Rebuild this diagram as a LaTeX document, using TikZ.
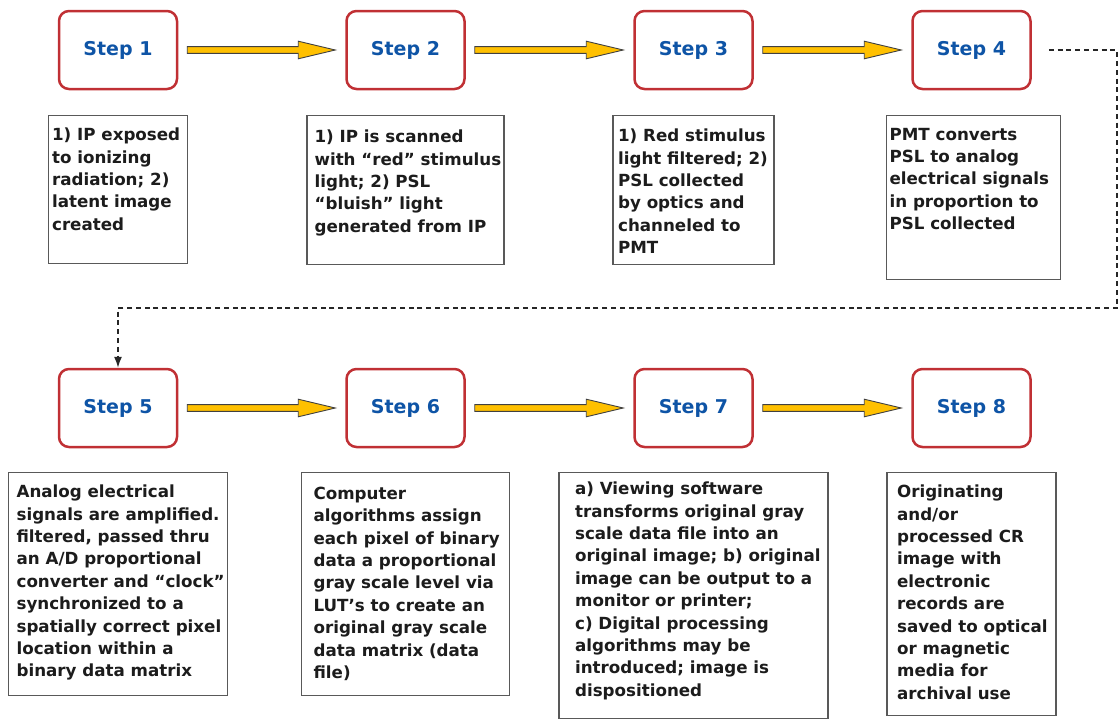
\documentclass[tikz,border=0pt]{standalone}
\usepackage{fontspec}
\setmainfont{DejaVu Sans}
\usetikzlibrary{arrows.meta,positioning}

\definecolor{stepred}{RGB}{192,48,52}
\definecolor{stepblue}{RGB}{14,84,166}
\definecolor{arrowgold}{RGB}{255,192,0}
\definecolor{textgray}{RGB}{28,28,28}

% fat yellow arrow between two step boxes
\newcommand{\fatarrow}[2]{%
  \draw[fatarrow] ([xshift=9pt,yshift=3.4pt]#1.east)
    -- ([xshift=-47pt,yshift=3.4pt]#2.west)
    -- ([xshift=-47pt,yshift=8.8pt]#2.west)
    -- ([xshift=-10pt]#2.west)
    -- ([xshift=-47pt,yshift=-8.8pt]#2.west)
    -- ([xshift=-47pt,yshift=-3.4pt]#2.west)
    -- ([xshift=9pt,yshift=-3.4pt]#1.east) -- cycle;}

\begin{document}
\begin{tikzpicture}[
    x = 1pt, y = -1pt, % pixel grid, y going down
    stepnode/.style = {draw = stepred, line width = 2.5pt, rounded corners = 10pt,
      minimum width = 118pt, minimum height = 78pt, text = stepblue,
      font = \bfseries\fontsize{19}{23}\selectfont},
    infobox/.style = {draw = black!65, line width = 1.2pt, fill = white},
    infotext/.style = {anchor = north west, inner sep = 0pt, align = left,
      text = textgray, font = \bfseries\fontsize{16.7}{22.4}\selectfont},
    fatarrow/.style = {fill = arrowgold, draw = black!75, line width = 0.9pt,
      line join = miter},
    flowline/.style = {draw = black!85, line width = 1.3pt,
      dash pattern = on 5pt off 3.8pt, -{Latex[length=11pt,width=8pt]}}
    ]
    \useasboundingbox (0,0) rectangle (1119,720);

    % step boxes
    \node[stepnode] (s1) at (118,50) {Step 1};
    \node[stepnode, right=167pt of s1] (s2) {Step 2};
    \node[stepnode, right=167.5pt of s2] (s3) {Step 3};
    \node[stepnode, right=157.5pt of s3] (s4) {Step 4};
    \node[stepnode] (s5) at (118,408) {Step 5};
    \node[stepnode, right=167pt of s5] (s6) {Step 6};
    \node[stepnode, right=167.5pt of s6] (s7) {Step 7};
    \node[stepnode, right=157.5pt of s7] (s8) {Step 8};

    % description boxes
    \node[infobox, minimum width=139pt, minimum height=148pt, below=25pt of s1] (b1) {};
    \node[infobox, minimum width=197pt, minimum height=149pt, below=25pt of s2] (b2) {};
    \node[infobox, minimum width=161pt, minimum height=149pt, below=25pt of s3] (b3) {};
    \node[infobox, minimum width=174pt, minimum height=164pt, below=25pt of s4, xshift=2pt] (b4) {};
    \node[infobox, minimum width=219pt, minimum height=223pt, below=24pt of s5] (b5) {};
    \node[infobox, minimum width=208pt, minimum height=223pt, below=24pt of s6] (b6) {};
    \node[infobox, minimum width=269pt, minimum height=246pt, below=24pt of s7] (b7) {};
    \node[infobox, minimum width=169pt, minimum height=243pt, below=24pt of s8] (b8) {};

    \node[infotext] (t1) at ([xshift=4pt,yshift=-12.5pt]b1.north west)
      {1) IP exposed\\to ionizing\\radiation; 2)\\latent image\\created};
    \node[infotext] (t2) at ([xshift=8pt,yshift=-14.5pt]b2.north west)
      {1) IP is scanned\\with “red” stimulus\\light; 2) PSL\\“bluish” light\\generated from IP};
    \node[infotext] (t3) at ([xshift=5.5pt,yshift=-13.5pt]b3.north west)
      {1) Red stimulus\\light filtered; 2)\\PSL collected\\by optics and\\channeled to\\PMT};
    \node[infotext] (t4) at ([xshift=3.5pt,yshift=-12.5pt]b4.north west)
      {PMT converts\\PSL to analog\\electrical signals\\in proportion to\\PSL collected};
    \node[infotext] (t5) at ([xshift=8.5pt,yshift=-12.5pt]b5.north west)
      {Analog electrical\\signals are amplified.\\filtered, passed thru\\an A/D proportional\\converter and “clock”\\synchronized to a\\spatially correct pixel\\location within a\\binary data matrix};
    \node[infotext] (t6) at ([xshift=12.5pt,yshift=-14.5pt]b6.north west)
      {Computer\\algorithms assign\\each pixel of binary\\data a proportional\\gray scale level via\\LUT’s to create an\\original gray scale\\data matrix (data\\file)};
    \node[infotext] (t7) at ([xshift=16.5pt,yshift=-9.5pt]b7.north west)
      {a) Viewing software\\transforms original gray\\scale data file into an\\original image; b) original\\image can be output to a\\monitor or printer;\\c) Digital processing\\algorithms may be\\introduced; image is\\dispositioned};
    \node[infotext] (t8) at ([xshift=10.5pt,yshift=-12.5pt]b8.north west)
      {Originating\\and/or\\processed CR\\image with\\electronic\\records are\\saved to optical\\or magnetic\\media for\\archival use};

    % arrows between steps
    \foreach \a/\b in {s1/s2, s2/s3, s3/s4, s5/s6, s6/s7, s7/s8}
      \fatarrow{\a}{\b};

    % dashed return line from step 4 to step 5
    \coordinate (c1) at (1117,308);
    \draw[flowline] ([xshift=17pt]s4.east) -| (c1) -| (s5.north);
\end{tikzpicture}
\end{document}
